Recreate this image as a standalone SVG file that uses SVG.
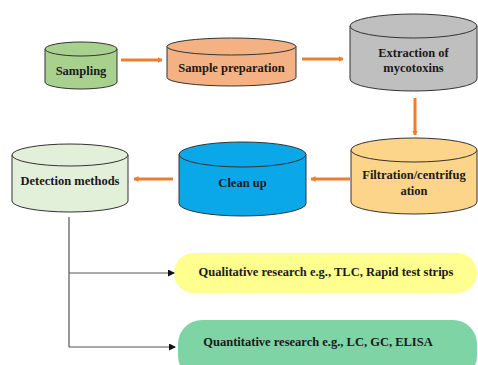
<svg xmlns="http://www.w3.org/2000/svg" width="478" height="365" viewBox="0 0 478 365">
<defs>
<marker id="oh" markerWidth="6" markerHeight="6" refX="4.5" refY="3" orient="auto" markerUnits="userSpaceOnUse"><path d="M0,0 L5,3 L0,6 Z" fill="#ed7d31"/></marker>
<marker id="bh" markerWidth="8" markerHeight="8" refX="6" refY="3.5" orient="auto" markerUnits="userSpaceOnUse"><path d="M0,0 L7,3.5 L0,7 Z" fill="#111"/></marker>
</defs>
<style>
.cyl{stroke:#333;stroke-width:1}
.t{font-family:"Liberation Serif","Times New Roman",serif;font-weight:bold;font-size:12.5px;fill:#1a1a1a;text-anchor:middle}
.oa{stroke:#ed7d31;stroke-width:3;fill:none;marker-end:url(#oh)}
.ba{stroke:#555;stroke-width:1.2;fill:none;marker-end:url(#bh)}
</style>
<rect width="478" height="365" fill="#fff"/>
<g id="sampling">
<path class="cyl" fill="#a9d18e" d="M45,49 L45,82 A36,7 0 0 0 117,82 L117,49 Z"/>
<ellipse class="cyl" fill="#a9d18e" cx="81" cy="49" rx="36" ry="7"/>
<text class="t" x="81" y="75">Sampling</text>
</g>
<g id="sample-preparation">
<path class="cyl" fill="#f4b183" d="M167,46.5 L167,77.5 A64.5,8.5 0 0 0 296,77.5 L296,46.5 Z"/>
<ellipse class="cyl" fill="#f4b183" cx="231.5" cy="46.5" rx="64.5" ry="8.5"/>
<text class="t" x="231.5" y="72">Sample preparation</text>
</g>
<g id="extraction">
<path class="cyl" fill="#bfbfbf" d="M350,26 L350,79 A63.5,12 0 0 0 477,79 L477,26 Z"/>
<ellipse class="cyl" fill="#bfbfbf" cx="413.5" cy="26" rx="63.5" ry="12"/>
<text class="t" x="413.5" y="57">Extraction of</text>
<text class="t" x="413.5" y="72">mycotoxins</text>
</g>
<g id="filtration">
<path class="cyl" fill="#fdd58a" d="M351,150 L351,202 A63,12 0 0 0 477,202 L477,150 Z"/>
<ellipse class="cyl" fill="#fdd58a" cx="414" cy="150" rx="63" ry="12"/>
<text class="t" x="414" y="179">Filtration/centrifug</text>
<text class="t" x="414" y="195">ation</text>
</g>
<g id="clean-up">
<path class="cyl" fill="#0aa8e8" d="M179,154.5 L179,203.5 A63.5,12.5 0 0 0 306,203.5 L306,154.5 Z"/>
<ellipse class="cyl" fill="#0aa8e8" cx="242.5" cy="154.5" rx="63.5" ry="12.5"/>
<text class="t" x="242.5" y="187">Clean up</text>
</g>
<g id="detection">
<path class="cyl" fill="#e2efd9" d="M12,155 L12,201 A58,11 0 0 0 128,201 L128,155 Z"/>
<ellipse class="cyl" fill="#e2efd9" cx="70" cy="155" rx="58" ry="11"/>
<text class="t" x="70" y="185">Detection methods</text>
</g>
<g id="qualitative">
<rect x="174" y="253" width="303" height="40" rx="20" fill="#ffff8f"/>
<text class="t" x="326" y="276">Qualitative research e.g., TLC, Rapid test strips</text>
</g>
<g id="quantitative">
<rect x="178" y="320" width="299" height="60" rx="24" fill="#7fd4a6"/>
<text class="t" x="318" y="346">Quantitative research e.g., LC, GC, ELISA</text>
</g>
<g id="connectors">
<line class="oa" x1="121" y1="60" x2="162" y2="60"/>
<line class="oa" x1="302" y1="59" x2="343" y2="59"/>
<line class="oa" x1="415" y1="98" x2="415" y2="135"/>
<line class="oa" x1="350" y1="179" x2="311" y2="179"/>
<line class="oa" x1="173" y1="179" x2="134" y2="179"/>
<path d="M69,217 L69,347" stroke="#555" stroke-width="1.2" fill="none"/>
<line class="ba" x1="69" y1="273" x2="174" y2="273"/>
<line class="ba" x1="69" y1="347" x2="175" y2="347"/>
</g>
</svg>
